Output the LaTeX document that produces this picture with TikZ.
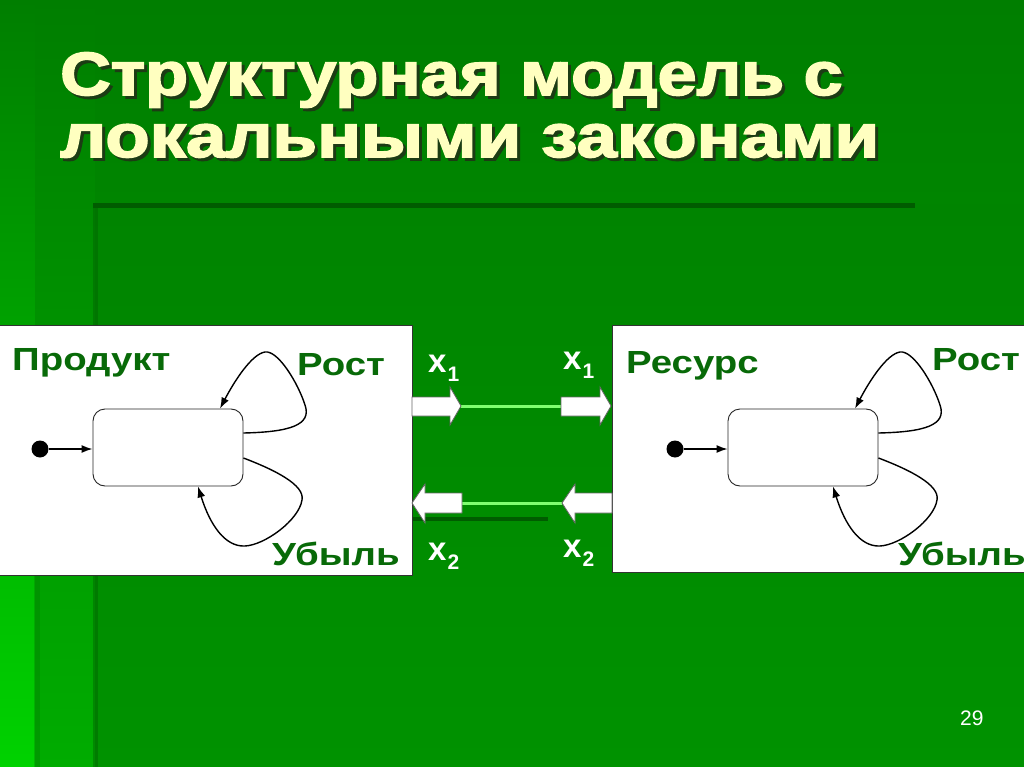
\documentclass[tikz,border=0pt]{standalone}
\usepackage{fontspec}
\setmainfont{Liberation Sans}
\newfontfamily\heavyfont[FakeBold=2.5]{Liberation Sans Bold}
\usepackage{graphicx}
\usetikzlibrary{arrows.meta,calc}
\definecolor{bgtop}{HTML}{007E00}
\definecolor{bgbot}{HTML}{009800}
\definecolor{intop}{HTML}{008400}
\definecolor{inbot}{HTML}{009200}
\definecolor{stripbot}{HTML}{00D200}
\definecolor{midbot}{HTML}{00AC00}
\definecolor{decoline}{HTML}{005C00}
\definecolor{labgreen}{HTML}{086A08}
\definecolor{cream}{HTML}{FFFFC0}
\definecolor{tshadow}{HTML}{1C3C14}
\definecolor{flow}{HTML}{80FF70}
\tikzset{
  titletext/.style={anchor=base west, inner sep=0pt, text=cream, font=\heavyfont\fontsize{61}{61}\selectfont},
  titleshadow/.style={anchor=base west, inner sep=0pt, text=tshadow, font=\heavyfont\fontsize{61}{61}\selectfont},
  boxlabel/.style={anchor=base west, inner sep=0pt, text=labgreen, font=\bfseries\fontsize{32}{32}\selectfont},
  whitebox/.style={fill=white, draw=black!80, line width=1pt},
  srect/.style={draw=black!85, line width=0.9pt, rounded corners=12pt, minimum width=150pt, minimum height=77pt, inner sep=0pt, fill=white},
  sdot/.style={circle, fill=black, minimum size=17pt, inner sep=0pt},
  tr/.style={line width=1.4pt, -{Latex[length=11pt,width=8pt]}},
  blockarrow/.style={fill=white, draw=black!60, line width=0.8pt},
  flowline/.style={flow, line width=3pt},
  xlab/.style={anchor=base west, inner sep=0pt, text=white},
}
\newcommand{\xsub}[1]{{\bfseries\fontsize{33}{33}\selectfont x}\kern1pt\raisebox{-9pt}{\bfseries\fontsize{21}{21}\selectfont #1}}
\newcommand{\wide}[1]{\scalebox{1.2}[1]{#1}}
\newcommand{\titleA}{\scalebox{1.15}[1]{Структурная модель с}}
\newcommand{\titleB}{\scalebox{1.19}[1]{локальными законами}}
\begin{document}
\begin{tikzpicture}[x=1pt,y=-1pt]
\useasboundingbox (0,0) rectangle (1024,767);
% background
\shade[top color=bgtop, bottom color=bgbot] (0,0) rectangle (1024,767);
\shade[top color=bgtop, bottom color=stripbot] (0,0) rectangle (35,767);
\shade[top color=bgtop, bottom color=midbot] (35,0) rectangle (95,767);
\shade[top color=intop, bottom color=inbot] (95,205) rectangle (1024,767);
\fill[black!30!green!55!black, opacity=0.45] (93,205) rectangle (98,767);
\fill[green!45!black, opacity=0.3] (34,500) rectangle (40,767);
\fill[decoline] (93,203) rectangle (915,208);
\fill[decoline] (412,517) rectangle (548,521);

% title
\node[titleshadow] (t1s) at (63,98) {\titleA};
\node[titleshadow] (t2s) at (63,160) {\titleB};
\node[titletext] (t1) at (60,95) {\titleA};
\node[titletext] (t2) at (60,157) {\titleB};

% boxes
\path[whitebox] (-2,325) rectangle (412,575);
\path[whitebox] (612,325) rectangle (1030,572);

% left state diagram
\node[boxlabel] (lprod) at (12,370) {\wide{Продукт}};
\node[boxlabel] (lrost) at (297,375) {\wide{Рост}};
\node[boxlabel] (lub) at (272,565) {\wide{Убыль}};
\node[srect] (lr) at (168,447.5) {};
\node[sdot] (ld) at (40,449) {};
\draw[tr] (ld.east) -- (ld.east -| lr.west);
\draw[tr] ([yshift=14.5pt]lr.east) .. controls (290,432) and (312,425) .. (305,405)
   .. controls (298,383) and (278,350) .. (265,352)
   .. controls (252,354) and (235,380) .. ([xshift=52pt]lr.north);
\draw[tr] ([yshift=-10.5pt]lr.east) .. controls (275,470) and (305,485) .. (302,500)
   .. controls (299,520) and (265,545) .. (245,546)
   .. controls (225,547) and (210,525) .. ([xshift=30pt]lr.south);

% right state diagram
\node[boxlabel] (rres) at (626,373) {\wide{Ресурс}};
\node[boxlabel] (rrost) at (932,370) {\wide{Рост}};
\node[boxlabel] (rub) at (898,565) {\wide{Убыль}};
\begin{scope}[xshift=635pt]
\node[srect] (rr) at (168,447.5) {};
\node[sdot] (rd) at (40,449) {};
\draw[tr] (rd.east) -- (rd.east -| rr.west);
\draw[tr] ([yshift=14.5pt]rr.east) .. controls (290,432) and (312,425) .. (305,405)
   .. controls (298,383) and (278,350) .. (265,352)
   .. controls (252,354) and (235,380) .. ([xshift=52pt]rr.north);
\draw[tr] ([yshift=-10.5pt]rr.east) .. controls (275,470) and (305,485) .. (302,500)
   .. controls (299,520) and (265,545) .. (245,546)
   .. controls (225,547) and (210,525) .. ([xshift=30pt]rr.south);
\end{scope}

% interface arrows
\coordinate (a1tip) at (461,406);
\coordinate (a2tail) at (561,406);
\coordinate (a3tail) at (462,503);
\coordinate (a4tip) at (562,503);
\draw[flowline] (a1tip) -- (a2tail);
\draw[flowline] (a3tail) -- (a4tip);
\path[blockarrow] (412,397) -- (450,397) -- (450,387) -- (a1tip) -- (450,425) -- (450,416) -- (412,416) -- cycle;
\path[blockarrow] (561,397) -- (600,397) -- (600,387) -- (611,406) -- (600,425) -- (600,416) -- (561,416) -- cycle;
\path[blockarrow] (462,493) -- (425,493) -- (425,484) -- (412,503) -- (425,523) -- (425,513) -- (462,513) -- cycle;
\path[blockarrow] (612,493) -- (575,493) -- (575,484) -- (a4tip) -- (575,523) -- (575,513) -- (612,513) -- cycle;

% labels
\node[xlab] (x1l) at (428,372) {\xsub{1}};
\node[xlab] (x1r) at (563,369) {\xsub{1}};
\node[xlab] (x2l) at (428,560) {\xsub{2}};
\node[xlab] (x2r) at (563,557) {\xsub{2}};

% page number
\node[anchor=base west, inner sep=0pt, text=white, font=\fontsize{21}{21}\selectfont] (pg) at (960,725) {29};
\end{tikzpicture}
\end{document}
